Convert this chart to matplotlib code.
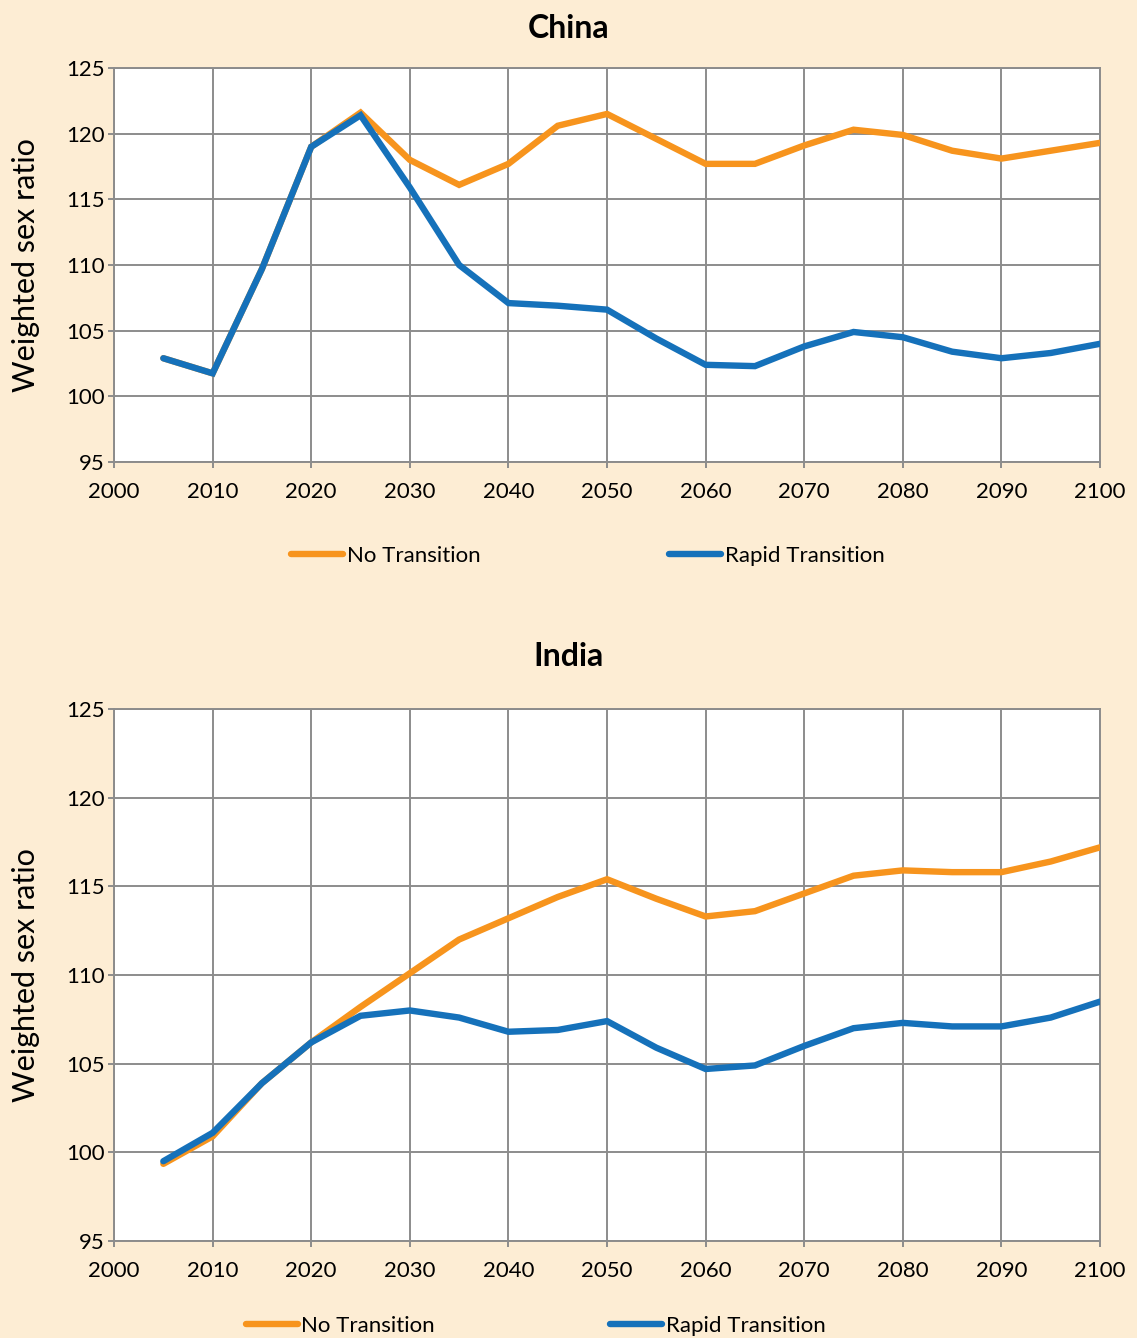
import matplotlib.pyplot as plt
import numpy as np

# data
years = list(range(2005, 2101, 5))
china_no = [102.9, 101.75, 109.7, 119.0, 121.6, 118.0, 116.1, 117.7, 120.6, 121.5,
            119.6, 117.7, 117.7, 119.1, 120.3, 119.9, 118.7, 118.1, 118.7, 119.3]
china_rapid = [102.9, 101.75, 109.7, 119.0, 121.4, 115.9, 110.0, 107.1, 106.9, 106.6,
               104.4, 102.4, 102.3, 103.8, 104.9, 104.5, 103.4, 102.9, 103.3, 104.0]
india_no = [99.35, 100.9, 103.9, 106.2, 108.2, 110.1, 112.0, 113.2, 114.4, 115.4,
            114.3, 113.3, 113.6, 114.6, 115.6, 115.9, 115.8, 115.8, 116.4, 117.2]
india_rapid = [99.5, 101.1, 103.9, 106.2, 107.7, 108.0, 107.6, 106.8, 106.9, 107.4,
               105.9, 104.7, 104.9, 106.0, 107.0, 107.3, 107.1, 107.1, 107.6, 108.5]
xticks = list(range(2000, 2101, 10))
yticks = list(range(95, 126, 5))

plt.rcParams['font.family'] = ['Lato', 'DejaVu Sans']
bg = '#FDEDD4'
orange = '#F7941D'
blue = '#1571BA'
gridc = '#8C8C8C'

fig = plt.figure(figsize=(11.37, 13.38), dpi=100, facecolor=bg)

# name, series, axes rect, title y, legend centre (x, y), legend column spacing
panels = [
    ('China', china_no, china_rapid, [0.1003, 0.6547, 0.8672, 0.2945], 0.9785, (0.517, 0.5845), 8.5),
    ('India', india_no, india_rapid, [0.1003, 0.0725, 0.8672, 0.3976], 0.5090, (0.471, 0.0090), 7.9),
]

for name, no, rapid, rect, ty, lpos, cs in panels:
    ax = fig.add_axes(rect)
    ax.set_facecolor('white')
    ax.plot(years, no, color=orange, lw=4.6, solid_capstyle='round', solid_joinstyle='miter',
            label='No Transition', zorder=3)
    ax.plot(years, rapid, color=blue, lw=4.6, solid_capstyle='round', solid_joinstyle='miter',
            label='Rapid Transition', zorder=4)
    ax.set_xlim(2000, 2100)
    ax.set_ylim(95, 125)
    ax.set_xticks(xticks)
    ax.set_yticks(yticks)
    ax.grid(True, color=gridc, lw=1.4)
    ax.set_axisbelow(True)
    for s in ax.spines.values():
        s.set_color(gridc)
        s.set_linewidth(1.4)
    ax.tick_params(axis='both', direction='out', length=4.5, width=1.4, color=gridc,
                   labelsize=16)
    ax.tick_params(axis='x', pad=10)
    ax.tick_params(axis='y', pad=2)
    ax.set_ylabel('Weighted sex ratio', fontsize=22)
    ax.yaxis.set_label_coords(-0.075, 0.5)
    fig.text(0.5, ty, name, ha='center', va='center', fontsize=23, fontweight='bold')
    fig.legend(handles=ax.get_lines(), loc='center', bbox_to_anchor=lpos,
               ncol=2, frameon=False, fontsize=16, handlelength=2.35, handletextpad=0.15,
               columnspacing=cs)

fig.savefig('out.png', dpi=100, facecolor=bg)
